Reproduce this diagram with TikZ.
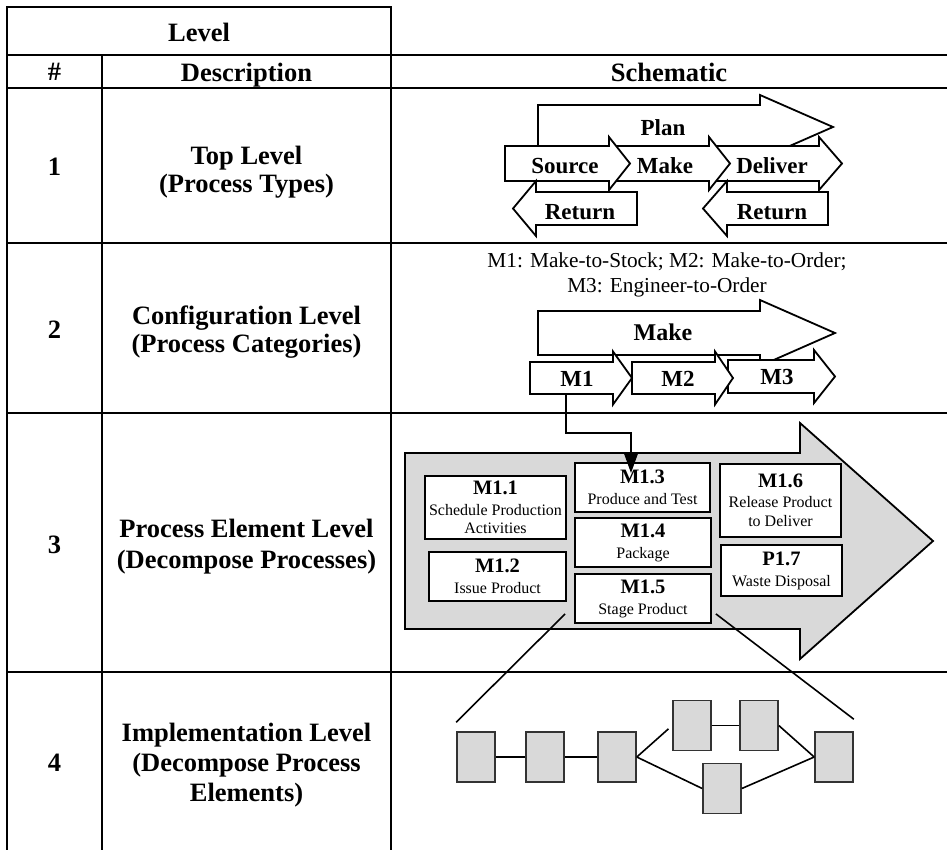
\documentclass[tikz,border=0pt]{standalone}
\usepackage{fontspec}
\setmainfont{Liberation Serif}
\usetikzlibrary{arrows.meta,calc}
\definecolor{panelgray}{HTML}{D9D9D9}

% block arrow: style, body start x, notch x, tip x, centre y, body half height, head half height
\newcommand\BlockArrow[7]{%
  \draw[#1] (#2,#5-#6) -- (#3,#5-#6) -- (#3,#5-#7) -- (#4,#5)
    -- (#3,#5+#7) -- (#3,#5+#6) -- (#2,#5+#6) -- cycle;}
\newcommand\ElemHead[1]{{\fontsize{20.5}{20}\selectfont\bfseries #1}}

\begin{document}
\begin{tikzpicture}[x=1pt,y=-1pt,
  rule/.style={line width=2.6pt,line cap=rect},
  blockarrow/.style={draw=black,fill=white,line width=1.8pt},
  bigarrow/.style={draw=black,fill=panelgray,line width=1.8pt},
  headtext/.style={font=\fontsize{26.5}{30}\selectfont\bfseries,align=center,inner sep=0pt},
  oneline/.style={text depth=0pt},
  arrowtext/.style={font=\fontsize{23}{26}\selectfont\bfseries,inner sep=0pt},
  notetext/.style={font=\fontsize{21.3}{25}\selectfont,align=center,inner sep=0pt},
  elembox/.style={draw=black,fill=white,line width=1.8pt,align=center,inner sep=0pt,
    font=\fontsize{16}{18.5}\selectfont},
  implbox/.style={draw=black!80,fill=panelgray,line width=1.6pt,
    minimum width=38pt,minimum height=50pt,inner sep=0pt},
  link/.style={line width=1.6pt},
]
\fill[white] (0,0) rectangle (947,849);
\useasboundingbox (0,0) rectangle (947,849);

% table rules
\draw[rule] (7,7) -- (391,7);
\draw[rule] (7,7) -- (7,849);
\draw[rule] (391,7) -- (391,849);
\draw[rule] (102,55) -- (102,849);
\foreach \y in {55,88,243,413,672} \draw[rule] (7,\y) -- (947,\y);

% header cells
\node[headtext,oneline] (hlevel) at (199,32) {Level};
\node[headtext,oneline] (hnum) at (54.5,72) {\#};
\node[headtext,oneline] (hdesc) at (246.5,72) {Description};
\node[headtext,oneline] (hschem) at (669,72) {Schematic};

% number and description column
\node[headtext,oneline] (n1) at (54.5,167) {1};
\node[headtext] (d1) at (246.5,172) {Top Level\\[-1.5pt](Process Types)};
\node[headtext,oneline] (n2) at (54.5,330) {2};
\node[headtext] (d2) at (246.5,332) {Configuration Level\\[-1.5pt](Process Categories)};
\node[headtext,oneline] (n3) at (54.5,545) {3};
\node[headtext] (d3) at (246.5,547) {Process Element Level\\[1pt](Decompose Processes)};
\node[headtext,oneline] (n4) at (54.5,763) {4};
\node[headtext] (d4) at (246.5,765) {Implementation Level\\(Decompose Process\\Elements)};

% level 1: process types
\BlockArrow{blockarrow}{538}{760}{833}{127}{22}{32}
\BlockArrow{blockarrow}{712}{819}{842}{163.5}{17.5}{26.5}
\BlockArrow{blockarrow}{612}{709}{730}{163.5}{17.5}{26.5}
\BlockArrow{blockarrow}{505}{609}{630}{163.5}{17.5}{26.5}
\BlockArrow{blockarrow}{637}{536}{513}{208.5}{16.5}{27.5}
\BlockArrow{blockarrow}{828}{727}{703}{208.5}{16.5}{27.5}
\node[arrowtext] (plan) at (663,128) {Plan};
\node[arrowtext] (source) at (565,166) {Source};
\node[arrowtext] (make) at (665,166) {Make};
\node[arrowtext] (deliver) at (772,166) {Deliver};
\node[arrowtext] (returnL) at (580,212) {Return};
\node[arrowtext] (returnR) at (772,212) {Return};

% level 2: process categories
\node[notetext] (note) at (667,275) {M1: Make-to-Stock; M2: Make-to-Order;\\M3: Engineer-to-Order};
\BlockArrow{blockarrow}{538}{760}{835}{333}{22}{33}
\BlockArrow{blockarrow}{728}{814}{835}{376.5}{16.5}{26.5}
\BlockArrow{blockarrow}{632}{715}{733}{378}{16}{26.5}
\BlockArrow{blockarrow}{530}{613}{632}{378}{16}{26.5}
\node[arrowtext,font=\fontsize{24}{26}\selectfont\bfseries] (make2) at (663,332) {Make};
\node[arrowtext] (m1) at (577,379) {M1};
\node[arrowtext] (m2) at (678,379) {M2};
\node[arrowtext] (m3) at (777,377) {M3};
\coordinate (m1foot) at (566,394);

% level 3: process elements
\BlockArrow{bigarrow}{405}{800}{933}{541}{88}{118}
\node[elembox,minimum width=141pt,minimum height=63pt] (M11) at (495.5,507.5)
  {\ElemHead{M1.1}\\[2pt]Schedule Production\\Activities};
\node[elembox,minimum width=137pt,minimum height=49pt] (M12) at (497.5,576.5)
  {\ElemHead{M1.2}\\[2.5pt]Issue Product};
\node[elembox,minimum width=135pt,minimum height=49pt] (M13) at (642.5,487.5)
  {\ElemHead{M1.3}\\[2.5pt]Produce and Test};
\node[elembox,minimum width=136pt,minimum height=49pt] (M14) at (643,542.5)
  {\ElemHead{M1.4}\\[2.5pt]Package};
\node[elembox,minimum width=136pt,minimum height=49pt] (M15) at (643,598.5)
  {\ElemHead{M1.5}\\[2.5pt]Stage Product};
\node[elembox,minimum width=121pt,minimum height=73pt] (M16) at (780.5,500.5)
  {\ElemHead{M1.6}\\[1.5pt]Release Product\\to Deliver};
\node[elembox,minimum width=121pt,minimum height=51pt] (P17) at (781.5,570.5)
  {\ElemHead{P1.7}\\[2.5pt]Waste Disposal};
\coordinate (m13in) at (631,473);
\draw[link,-{Triangle[length=20pt,width=14pt]}] (m1foot) -- ++(0,39) -| (m13in);

% level 4: implementation
\node[implbox] (B1) at (476,757) {};
\node[implbox] (B2) at (545,757) {};
\node[implbox] (B3) at (617,757) {};
\node[implbox] (B4) at (692,725.5) {};
\node[implbox] (B5) at (759,725.5) {};
\node[implbox] (B6) at (722,788.5) {};
\node[implbox] (B7) at (834,757) {};
\draw[link] (B1) -- (B2);
\draw[link] (B2) -- (B3);
\draw[link,shorten >=5pt] (B3.east) -- (B4.west);
\draw[link] (B4) -- (B5);
\draw[link] (B5.east) -- (B7.west);
\draw[link] (B3.east) -- (B6.west);
\draw[link] (B6.east) -- (B7.west);

% zoom lines from M1.5 down to its implementation
\draw[link] ($(M15.south west)+(-9,-10)$) -- ($(B1.north west)+(0,-9)$);
\draw[link] ($(M15.south east)+(4,-10)$) -- ($(B7.north east)+(0,-12)$);
\end{tikzpicture}
\end{document}
